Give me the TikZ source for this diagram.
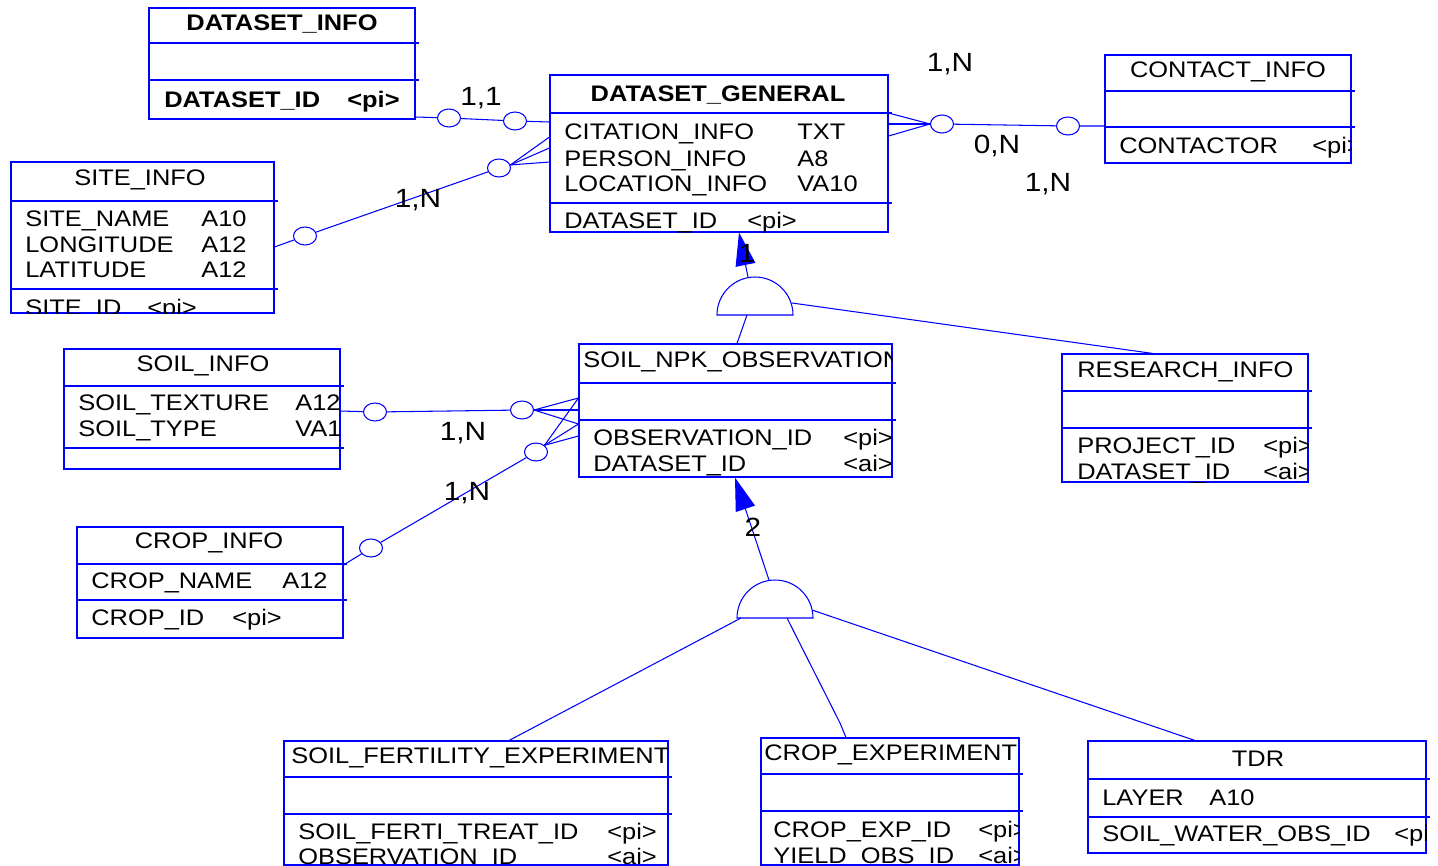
\documentclass[tikz,border=0pt]{standalone}
\usepackage{fontspec}
\setmainfont{Liberation Sans}[FakeStretch=1.13]
\usepackage{tikz}
\usetikzlibrary{arrows.meta,positioning,fit,shapes.geometric}
\definecolor{erBlue}{HTML}{0000FF}
\newcommand{\attrsize}{\fontsize{12.8}{15}\selectfont}
\newcommand{\cardsize}{\fontsize{15}{17}\selectfont}
\newcommand{\sepline}[2]{\draw[er] (#1.west |- 0,#2) -- (#1.east |- 0,#2) -- ++(3,0);}
\newcommand{\attrrows}[4]{%
  \foreach \nm/\vl/\yy [count=\i] in {#4} {
    \node[attr] (#1-n\i) at (#2,\yy) {\nm};
    \node[attr] (#1-v\i) at (#3,\yy) {\vl};
  }}
\newcommand{\clipto}[1]{\clip (#1.south west) rectangle (#1.north east);}

\begin{document}
\begin{tikzpicture}[x=0.02cm, y=-0.02cm,
  er/.style={draw=erBlue, line width=0.6pt},
  entity/.style={er, inner sep=0pt, fit={#1}},
  circ/.style={er, ellipse, minimum width=0.46cm, minimum height=0.36cm, inner sep=0pt},
  attr/.style={anchor=base west, inner sep=0pt, font=\attrsize},
  head/.style={anchor=base, inner sep=0pt, font=\attrsize},
  card/.style={anchor=base, inner sep=0pt, font=\cardsize},
  isa/.style={er, -{Triangle[length=0.66cm, width=0.4cm]}}]
  \useasboundingbox (0,0) rectangle (1438,866);

  % entities
  \node[entity={(149,8) (415,119)}] (dsinfo) {};
  \sepline{dsinfo}{43} \sepline{dsinfo}{80}
  \node[head, font=\attrsize\bfseries] (dsinfo-t) at (282,30) {DATASET\_INFO};
  \node[attr, font=\attrsize\bfseries] (dsinfo-n1) at (164,107) {DATASET\_ID};
  \node[attr, font=\attrsize\bfseries] (dsinfo-v1) at (347,107) {<pi>};

  \node[entity={(550,75) (888,232)}] (dsgen) {};
  \sepline{dsgen}{113} \sepline{dsgen}{203}
  \node[head, font=\attrsize\bfseries] (dsgen-t) at (718,101) {DATASET\_GENERAL};
  \attrrows{dsgen}{564}{797}{CITATION\_INFO/TXT/139, PERSON\_INFO/A8/166, LOCATION\_INFO/VA10/191}
  \attrrows{dsgen-k}{564}{747}{DATASET\_ID/<pi>/228}

  \node[entity={(1105,55) (1351,163)}] (contact) {};
  \sepline{contact}{91} \sepline{contact}{127}
  \begin{scope}
    \clipto{contact}
    \node[head] (contact-t) at (1228,77) {CONTACT\_INFO};
    \attrrows{contact-k}{1119}{1312}{CONTACTOR/<pi>/153}
  \end{scope}

  \node[entity={(11,162) (274,313)}] (site) {};
  \sepline{site}{201} \sepline{site}{289}
  \begin{scope}
    \clipto{site}
    \node[head] (site-t) at (140,185) {SITE\_INFO};
    \attrrows{site}{25}{201}{SITE\_NAME/A10/226, LONGITUDE/A12/252, LATITUDE/A12/277}
    \attrrows{site-k}{25}{147}{SITE\_ID/<pi>/315}
  \end{scope}

  \node[entity={(64,349) (340,469)}] (soil) {};
  \sepline{soil}{386} \sepline{soil}{448}
  \begin{scope}
    \clipto{soil}
    \node[head] (soil-t) at (203,371) {SOIL\_INFO};
    \attrrows{soil}{78}{295}{SOIL\_TEXTURE/A12/410, SOIL\_TYPE/VA10/436}
  \end{scope}

  \node[entity={(77,527) (343,638)}] (crop) {};
  \sepline{crop}{564} \sepline{crop}{600}
  \node[head] (crop-t) at (209,548) {CROP\_INFO};
  \attrrows{crop}{91}{282}{CROP\_NAME/A12/588}
  \attrrows{crop-k}{91}{232}{CROP\_ID/<pi>/625}

  \node[entity={(579,344) (892,477)}] (npk) {};
  \sepline{npk}{383} \sepline{npk}{420}
  \begin{scope}
    \clipto{npk}
    \node[attr] (npk-t) at (583,367) {SOIL\_NPK\_OBSERVATION};
    \attrrows{npk-k}{593}{843}{OBSERVATION\_ID/<pi>/445, DATASET\_ID/<ai>/471}
  \end{scope}

  \node[entity={(1062,354) (1308,482)}] (research) {};
  \sepline{research}{391} \sepline{research}{428}
  \begin{scope}
    \clipto{research}
    \node[attr] (research-t) at (1077,377) {RESEARCH\_INFO};
    \attrrows{research-k}{1077}{1263}{PROJECT\_ID/<pi>/453, DATASET\_ID/<ai>/479}
  \end{scope}

  \node[entity={(284,741) (668,865)}] (sfe) {};
  \sepline{sfe}{777} \sepline{sfe}{814}
  \begin{scope}
    \clipto{sfe}
    \node[attr] (sfe-t) at (291,763) {SOIL\_FERTILITY\_EXPERIMENT};
    \attrrows{sfe-k}{298}{607}{SOIL\_FERTI\_TREAT\_ID/<pi>/839, OBSERVATION\_ID/<ai>/864}
  \end{scope}

  \node[entity={(761,738) (1019,865)}] (cropexp) {};
  \sepline{cropexp}{774} \sepline{cropexp}{811}
  \begin{scope}
    \clipto{cropexp}
    \node[attr] (cropexp-t) at (764,760) {CROP\_EXPERIMENT};
    \attrrows{cropexp-k}{773}{978}{CROP\_EXP\_ID/<pi>/837, YIELD\_OBS\_ID/<ai>/863}
  \end{scope}

  \node[entity={(1088,741) (1426,853)}] (tdr) {};
  \sepline{tdr}{779} \sepline{tdr}{817}
  \begin{scope}
    \clipto{tdr}
    \node[head] (tdr-t) at (1258,766) {TDR};
    \attrrows{tdr}{1102}{1209}{LAYER/A10/805}
    \attrrows{tdr-k}{1102}{1394}{SOIL\_WATER\_OBS\_ID/<pi>/841}
  \end{scope}

  % relationships
  \node[circ] (dsi-c1) at (449,118) {};
  \node[circ] (dsi-c2) at (515,121) {};
  \draw[er] (dsinfo.east |- 0,117) -- (dsi-c1) -- (dsi-c2) -- (dsgen.west |- 0,122);
  \node[card] (dsi-m) at (481,105) {1,1};

  \node[circ] (sit-c1) at (305,236) {};
  \node[circ] (sit-c2) at (499,168) {};
  \draw[er] (site.east |- 0,247) -- (sit-c1) -- (sit-c2);
  \foreach \yy in {137,148,162} \draw[er] (sit-c2.15) -- (dsgen.west |- 0,\yy);
  \node[card] (sit-m) at (418,207) {1,N};

  \node[circ] (con-c1) at (942,124) {};
  \node[circ] (con-c2) at (1068,126) {};
  \foreach \yy in {113,124,136} \draw[er] (dsgen.east |- 0,\yy) -- (con-c1.west);
  \draw[er] (con-c1) -- (con-c2) -- (contact.west |- 0,126);
  \node[card] (con-m1) at (950,71) {1,N};
  \node[card] (con-m2) at (997,153) {0,N};
  \node[card] (con-m3) at (1048,191) {1,N};

  \node[circ] (soi-c1) at (375,412) {};
  \node[circ] (soi-c2) at (522,410) {};
  \draw[er] (soil.east |- 0,411) -- (soi-c1) -- (soi-c2);
  \foreach \yy in {398,410,424} \draw[er] (soi-c2.east) -- (npk.west |- 0,\yy);
  \node[card] (soi-m) at (463,440) {1,N};

  \node[circ] (cro-c1) at (371,548) {};
  \node[circ] (cro-c2) at (536,452) {};
  \draw[er] (crop.east |- 0,565) -- (cro-c1) -- (cro-c2);
  \foreach \yy in {398,424,436} \draw[er] (cro-c2.north east) -- (npk.west |- 0,\yy);
  \node[card] (cro-m) at (467,500) {1,N};

  % inheritance
  \coordinate (g1) at (755,315);
  \draw[er] ([xshift=-0.76cm]g1) arc[start angle=180, end angle=0, radius=0.76cm] -- cycle;
  \coordinate (g1-top) at (748,277);
  \coordinate (g1-bot) at (747,315);
  \coordinate (g1-rt) at (792,303);
  \draw[isa] (g1-top) -- (dsgen.south -| 739,0);
  \node[card] (g1-m) at (747,262) {1};
  \draw[er] (g1-bot) -- (npk.north -| 737,0);
  \draw[er] (g1-rt) -- (research.north -| 1153,0);

  \coordinate (g2) at (775,618);
  \draw[er] ([xshift=-0.76cm]g2) arc[start angle=180, end angle=0, radius=0.76cm] -- cycle;
  \coordinate (g2-top) at (769,580);
  \coordinate (g2-l) at (741,618);
  \coordinate (g2-c) at (787,618);
  \coordinate (g2-r) at (812,610);
  \draw[isa] (g2-top) -- (npk.south -| 735,0);
  \node[card] (g2-m) at (753,536) {2};
  \draw[er] (g2-l) -- (sfe.north -| 509,0);
  \draw[er] (g2-c) -- (840,723) -- (cropexp.north -| 846,0);
  \draw[er] (g2-r) -- (tdr.north -| 1195,0);
\end{tikzpicture}
\end{document}
